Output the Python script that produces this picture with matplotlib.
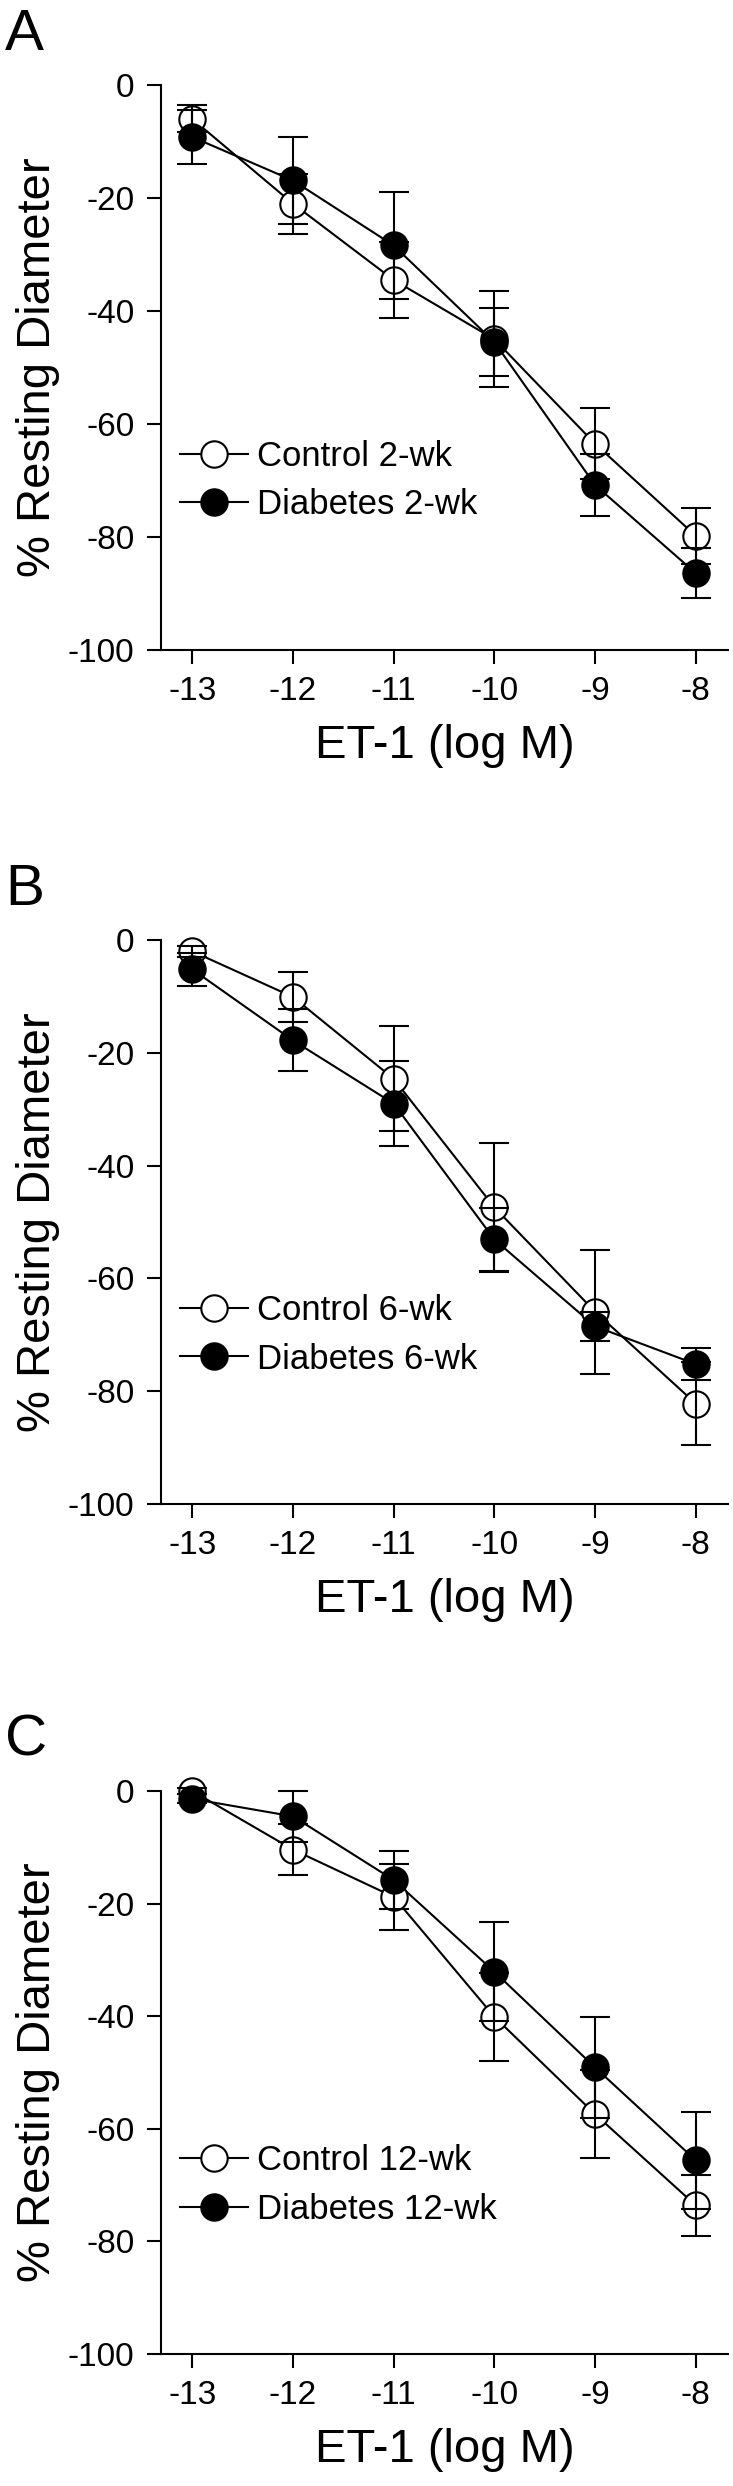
import matplotlib
matplotlib.use("Agg")
import matplotlib.pyplot as plt
from matplotlib.lines import Line2D

plt.rcParams['font.family'] = ['Liberation Sans', 'DejaVu Sans']
plt.rcParams['axes.unicode_minus'] = False

# ET-1 concentrations (log M)
et1 = [-13, -12, -11, -10, -9, -8]

# panel A: 2 weeks
ctrl_2wk = [-6.0, -21.0, -34.5, -45.0, -63.5, -79.8]
ctrl_2wk_err = [2.4, 5.3, 6.7, 8.5, 6.3, 4.9]
diab_2wk = [-9.2, -16.9, -28.4, -45.5, -70.8, -86.4]
diab_2wk_err = [4.7, 7.7, 9.5, 6.0, 5.5, 4.4]

# panel B: 6 weeks
ctrl_6wk = [-2.0, -10.1, -24.6, -47.4, -65.9, -82.2]
ctrl_6wk_err = [1.0, 4.4, 9.3, 11.4, 11.0, 7.3]
diab_6wk = [-5.2, -17.8, -29.0, -53.1, -68.5, -75.2]
diab_6wk_err = [2.9, 5.5, 7.5, 5.6, 2.6, 2.9]

# panel C: 12 weeks
ctrl_12wk = [0.0, -10.4, -18.8, -40.1, -57.4, -73.6]
ctrl_12wk_err = [0.5, 4.6, 5.9, 7.8, 7.8, 5.4]
diab_12wk = [-1.4, -4.5, -15.8, -32.1, -49.1, -65.6]
diab_12wk_err = [0.8, 4.5, 5.2, 8.8, 8.9, 8.6]

panels = [
    ("A", "2-wk", ctrl_2wk, ctrl_2wk_err, diab_2wk, diab_2wk_err),
    ("B", "6-wk", ctrl_6wk, ctrl_6wk_err, diab_6wk, diab_6wk_err),
    ("C", "12-wk", ctrl_12wk, ctrl_12wk_err, diab_12wk, diab_12wk_err),
]

W, H = 733, 2486
fig = plt.figure(figsize=(W / 100, H / 100), dpi=100)

# axes boxes in pixels: (top, bottom)
boxes = [(85, 650), (940, 1504), (1791, 2354)]
left_px, right_px = 161, 728

lw = 1.5
ms = 19
for (letter, wk, c, ce, d, de), (top, bot) in zip(panels, boxes):
    ax = fig.add_axes([left_px / W, 1 - bot / H, (right_px - left_px) / W, (bot - top) / H])

    ax.plot(et1, c, '-', color='k', lw=lw, zorder=1)
    ax.plot(et1, d, '-', color='k', lw=lw, zorder=1)
    ax.plot(et1, c, 'o', mfc='white', mec='k', ms=ms, mew=lw, zorder=2, clip_on=False)
    ax.errorbar(et1, c, yerr=ce, fmt='none', ecolor='k', elinewidth=lw,
                capsize=10.5, capthick=lw, zorder=3, clip_on=False)
    ax.plot(et1, d, 'o', mfc='k', mec='k', ms=ms, mew=lw, zorder=4, clip_on=False)
    ax.errorbar(et1, d, yerr=de, fmt='none', ecolor='k', elinewidth=lw,
                capsize=10.5, capthick=lw, zorder=5, clip_on=False)

    ax.set_xlim(-13.31, -7.68)
    ax.set_ylim(-100, 0)
    ax.set_xticks(et1)
    ax.set_yticks([0, -20, -40, -60, -80, -100])
    ax.spines['top'].set_visible(False)
    ax.spines['right'].set_visible(False)
    for s in ['left', 'bottom']:
        ax.spines[s].set_linewidth(lw)
    ax.tick_params(direction='out', length=10, width=lw, labelsize=24, pad=9)

    ax.set_xlabel("ET-1 (log M)", fontsize=34, labelpad=12)
    ax.set_ylabel("% Resting Diameter", fontsize=34, labelpad=6)

    handles = [
        Line2D([], [], color='k', lw=lw, marker='o', mfc='white', mec='k', ms=ms, mew=lw),
        Line2D([], [], color='k', lw=lw, marker='o', mfc='k', mec='k', ms=ms, mew=lw),
    ]
    ax.legend(handles, ["Control " + wk, "Diabetes " + wk], loc='center left',
              bbox_to_anchor=(0.0335, 0.30), frameon=False, fontsize=25,
              numpoints=1, handlelength=1.96, handletextpad=0.26,
              labelspacing=0.45, borderpad=0, borderaxespad=0)

    ax.text((5 - left_px) / (right_px - left_px), 1 + 77 / (bot - top), letter,
            transform=ax.transAxes, fontsize=42, ha='left', va='top')

fig.savefig("out.png", dpi=100)
